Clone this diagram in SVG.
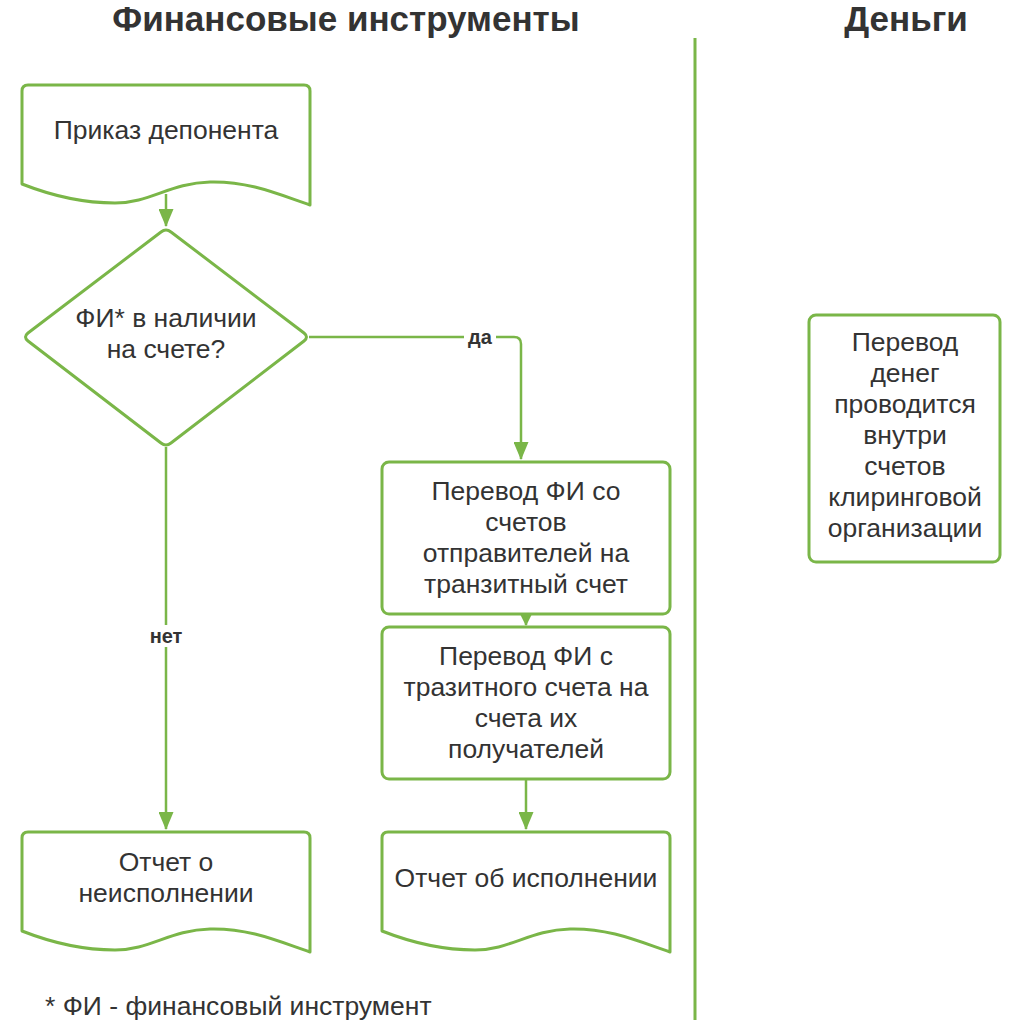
<svg xmlns="http://www.w3.org/2000/svg" width="1010" height="1020" viewBox="0 0 1010 1020">
<style>
.shape{fill:#fff;stroke:#7ab648;stroke-width:3;stroke-linejoin:round}
.t{font-family:"Liberation Sans",Arial,sans-serif;font-size:26.5px;fill:#333;text-anchor:middle}
.h{font-family:"Liberation Sans",Arial,sans-serif;font-size:35px;font-weight:bold;fill:#333;text-anchor:middle}
.lbl{font-family:"Liberation Sans",Arial,sans-serif;font-size:20px;font-weight:bold;fill:#333;text-anchor:middle}
.c{fill:none;stroke:#7ab648;stroke-width:2.5}
</style>
<defs>
<marker id="ah" markerWidth="18" markerHeight="15" refX="17" refY="7.5" orient="auto" markerUnits="userSpaceOnUse" viewBox="0 0 18 15">
<path d="M0,0 L18,7.5 L0,15 Z" fill="#7ab648"/>
</marker>
<marker id="ahs" markerWidth="12" markerHeight="12" refX="11" refY="6" orient="auto" markerUnits="userSpaceOnUse" viewBox="0 0 12 12">
<path d="M0,0 L12,6 L0,12 Z" fill="#7ab648"/>
</marker>
</defs>
<rect width="1010" height="1020" fill="#fff"/>
<text class="h" x="346" y="31">Финансовые инструменты</text>
<text class="h" x="906" y="31">Деньги</text>
<line x1="695" y1="38" x2="695" y2="1020" stroke="#7ab648" stroke-width="3"/>
<g id="connectors">
<path class="c" d="M166,194 L166,226" marker-end="url(#ah)"/>
<path class="c" d="M309,337 L514,337 Q521,337 521,344 L521,459" marker-end="url(#ah)"/>
<rect x="464" y="326" width="32" height="22" fill="#fff"/>
<text class="lbl" x="480" y="344">да</text>
<path class="c" d="M166,447 L166,829" marker-end="url(#ah)"/>
<rect x="146" y="625" width="40" height="22" fill="#fff"/>
<text class="lbl" x="166" y="643">нет</text>
<path class="c" d="M526,614 L526,625" marker-end="url(#ahs)"/>
<path class="c" d="M526,779 L526,829" marker-end="url(#ah)"/>
</g>
<g id="n1">
<path class="shape" d="M22,184 L22,91 Q22,85 28,85 L304,85 Q310,85 310,91 L310,205 C280,195 250,181 210,182 C170,183 150,203 115,203 C80,203 50,195 22,184 Z"/>
<text class="t" x="166" y="139">Приказ депонента</text>
</g>
<g id="n2">
<path class="shape" d="M161,232 Q166,228 171,232 L304,333 Q309,337 304,341 L171,443 Q166,447 161,443 L28,341 Q23,337 28,333 Z"/>
<text class="t" x="166" y="327">ФИ* в наличии</text>
<text class="t" x="166" y="358">на счете?</text>
</g>
<g id="n3">
<rect class="shape" x="382" y="462" width="288" height="152" rx="7"/>
<text class="t" x="526" y="500">Перевод ФИ со</text>
<text class="t" x="526" y="531">счетов</text>
<text class="t" x="526" y="562">отправителей на</text>
<text class="t" x="526" y="593">транзитный счет</text>
</g>
<g id="n4">
<rect class="shape" x="382" y="627" width="288" height="152" rx="7"/>
<text class="t" x="526" y="665">Перевод ФИ с</text>
<text class="t" x="526" y="696">тразитного счета на</text>
<text class="t" x="526" y="727">счета их</text>
<text class="t" x="526" y="758">получателей</text>
</g>
<g id="n5">
<path class="shape" d="M22,931 L22,838 Q22,832 28,832 L304,832 Q310,832 310,838 L310,952 C280,942 250,928 210,929 C170,930 150,950 115,950 C80,950 50,942 22,931 Z"/>
<text class="t" x="166" y="871">Отчет о</text>
<text class="t" x="166" y="902">неисполнении</text>
</g>
<g id="n6">
<path class="shape" d="M382,931 L382,838 Q382,832 388,832 L664,832 Q670,832 670,838 L670,952 C640,942 610,928 570,929 C530,930 510,950 475,950 C440,950 410,942 382,931 Z"/>
<text class="t" x="526" y="887">Отчет об исполнении</text>
</g>
<g id="n7">
<rect class="shape" x="809" y="315" width="191" height="247" rx="7"/>
<text class="t" x="905" y="351">Перевод</text>
<text class="t" x="905" y="382">денег</text>
<text class="t" x="905" y="413">проводится</text>
<text class="t" x="905" y="444">внутри</text>
<text class="t" x="905" y="475">счетов</text>
<text class="t" x="905" y="506">клиринговой</text>
<text class="t" x="905" y="537">организации</text>
</g>
<text class="t" x="45" y="1015" style="text-anchor:start">* ФИ - финансовый инструмент</text>
</svg>
